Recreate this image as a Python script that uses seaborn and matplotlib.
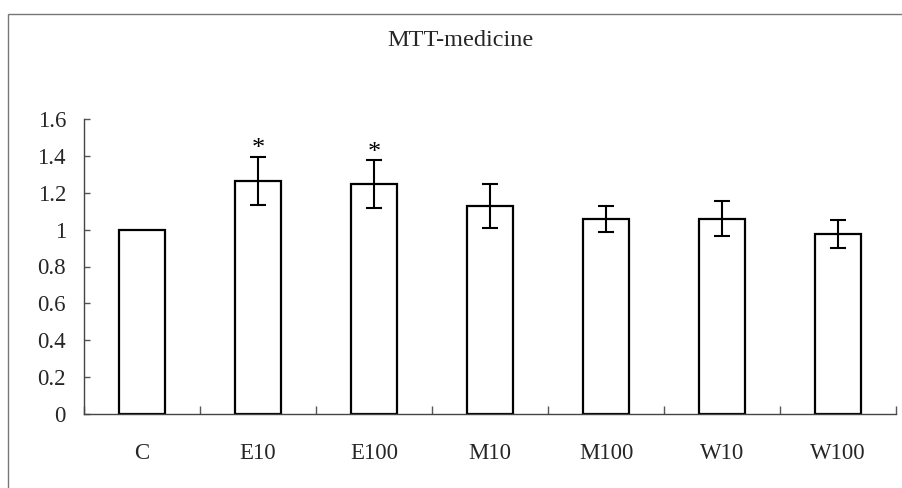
import matplotlib
matplotlib.use("Agg")
import matplotlib.pyplot as plt
import matplotlib.patches as mpatches
import seaborn as sns
import pandas as pd
import numpy as np

categories = ["C", "E10", "E100", "M10", "M100", "W10", "W100"]
values = [1.0, 1.265, 1.247, 1.13, 1.057, 1.060, 0.976]
errors = [0.0, 0.131, 0.130, 0.120, 0.072, 0.094, 0.078]
significant = [False, True, True, False, False, False, False]
y_ticks = [0, 0.2, 0.4, 0.6, 0.8, 1.0, 1.2, 1.4, 1.6]
y_tick_labels = ["0", "0.2", "0.4", "0.6", "0.8", "1", "1.2", "1.4", "1.6"]
title = "MTT-medicine"

sns.set_style("white")
plt.rcParams["font.family"] = ["Liberation Serif", "DejaVu Serif"]

df = pd.DataFrame({"group": categories, "value": values})

fig = plt.figure(figsize=(9.03, 4.88), dpi=100)
ax = fig.add_axes([84 / 903, 74 / 488, 812 / 903, 295 / 488])

sns.barplot(data=df, x="group", y="value", order=categories, color="white",
            edgecolor="black", linewidth=1.6, width=0.4, errorbar=None,
            saturation=1, ax=ax)

xs = np.arange(len(categories))
vals = np.array(values)
errs = np.array(errors)
mask = errs > 0
ax.errorbar(xs[mask], vals[mask], yerr=errs[mask], fmt="none", ecolor="black",
            elinewidth=1.5, capsize=6, capthick=1.5)

for x, v, e, s in zip(xs, values, errors, significant):
    if s:
        ax.text(x, v + e + 0.008, "*", ha="center", va="baseline",
                fontsize=19, color="black")

ax.set_xlim(-0.5, len(categories) - 0.5)
ax.set_ylim(0, 1.6)
ax.set_yticks(y_ticks)
ax.set_yticklabels(y_tick_labels)

ax.set_xticks(np.arange(-0.5, len(categories), 1.0))
ax.set_xticklabels([])
ax.set_xticks(xs, minor=True)
ax.set_xticklabels(categories, minor=True)
ax.tick_params(axis="x", which="major", direction="in", length=6,
               width=1, color="#555555", bottom=True)
ax.tick_params(axis="x", which="minor", length=0, pad=21, labelsize=16.5)
ax.tick_params(axis="y", direction="in", length=4.5, width=1,
               color="#555555", left=True, pad=13, labelsize=16.5)

ax.set_xlabel("")
ax.set_ylabel("")
for side in ["top", "right"]:
    ax.spines[side].set_visible(False)
for side in ["left", "bottom"]:
    ax.spines[side].set_color("#444444")
    ax.spines[side].set_linewidth(1.0)

fig.text(460 / 903, 1 - 41 / 488, title, ha="center", va="center",
         fontsize=17.5)

border = mpatches.Rectangle((8 / 903, -0.1), 1.0, 1 - 14 / 488 + 0.1,
                            transform=fig.transFigure, fill=False,
                            edgecolor="#777777", linewidth=1.0)
fig.patches.append(border)

fig.savefig("out.png", dpi=100)
